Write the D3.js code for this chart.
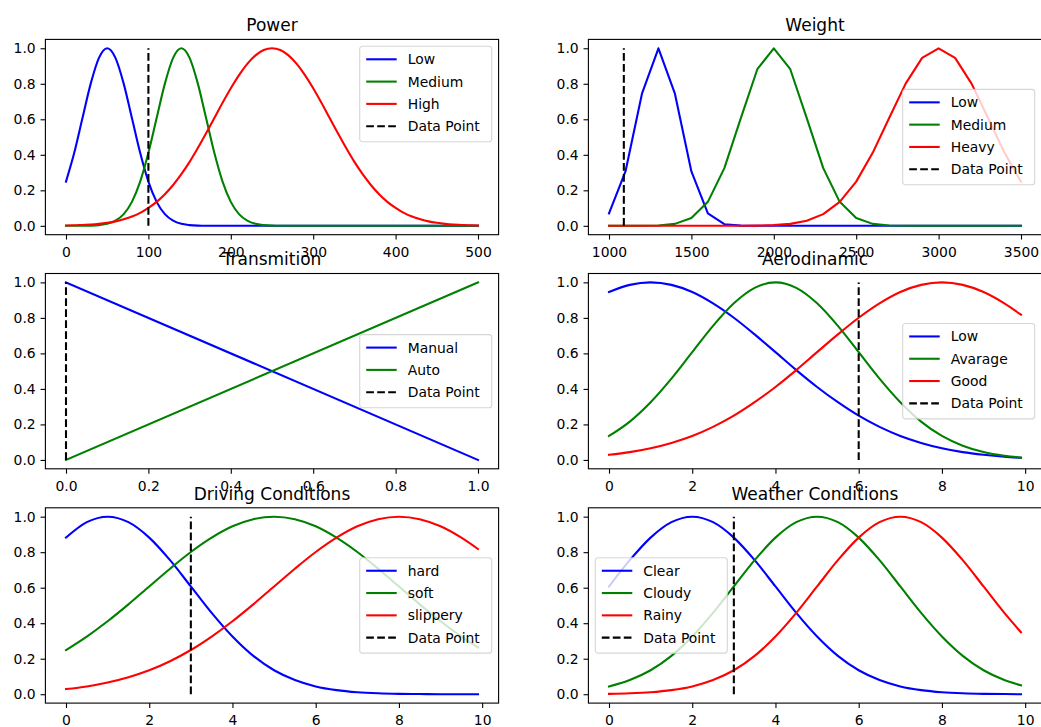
<!DOCTYPE html>
<html>
<head>
<meta charset="utf-8">
<script src="https://cdn.jsdelivr.net/npm/d3@7"></script>
<style>
body { margin: 0; background: #fff; }
svg { display: block; font-family: "DejaVu Sans", sans-serif; }
</style>
</head>
<body>
<svg id="fig" width="1041" height="727"></svg>
<script>

// ---- data ----
const power_x = [0,10,20,30,40,50,60,70,80,90,
  100,110,120,130,140,150,160,170,180,190,
  200,210,220,230,240,250,260,270,280,290,
  300,310,320,330,340,350,360,370,380,390,
  400,410,420,430,440,450,460,470,480,490,
  500]
const power_low = [0.249,0.411,0.607,0.801,0.946,1,0.946,0.801,0.607,0.411,
  0.249,0.135,0.066,0.029,0.011,0.004,0.001,0,0,0,
  0,0,0,0,0,0,0,0,0,0,
  0,0,0,0,0,0,0,0,0,0,
  0,0,0,0,0,0,0,0,0,0,
  0]
const power_medium = [0,0,0,0.001,0.004,0.011,0.029,0.066,0.135,0.249,
  0.411,0.607,0.801,0.946,1,0.946,0.801,0.607,0.411,0.249,
  0.135,0.066,0.029,0.011,0.004,0.001,0,0,0,0,
  0,0,0,0,0,0,0,0,0,0,
  0,0,0,0,0,0,0,0,0,0,
  0]
const power_high = [0.002,0.003,0.005,0.007,0.011,0.017,0.025,0.037,0.052,0.073,
  0.101,0.135,0.178,0.230,0.291,0.360,0.438,0.521,0.607,0.693,
  0.775,0.849,0.912,0.960,0.990,1,0.990,0.960,0.912,0.849,
  0.775,0.693,0.607,0.521,0.438,0.360,0.291,0.230,0.178,0.135,
  0.101,0.073,0.052,0.037,0.025,0.017,0.011,0.007,0.005,0.003,
  0.002]
const power_point = 100
const power_ticks = [0, 100, 200, 300, 400, 500]

const weight_x = [1000,1100,1200,1300,1400,1500,1600,1700,1800,1900,
  2000,2100,2200,2300,2400,2500,2600,2700,2800,2900,
  3000,3100,3200,3300,3400,3500]
const weight_low = [0.070,0.306,0.744,1,0.744,0.306,0.070,0.009,0.001,0,
  0,0,0,0,0,0,0,0,0,0,
  0,0,0,0,0,0]
const weight_medium = [0,0,0,0.002,0.011,0.044,0.135,0.325,0.607,0.882,
  1,0.882,0.607,0.325,0.135,0.044,0.011,0.002,0,0,
  0,0,0,0,0,0]
const weight_heavy = [0,0,0,0,0,0,0,0,0,0.001,
  0.004,0.011,0.029,0.066,0.135,0.249,0.411,0.607,0.801,0.946,
  1,0.946,0.801,0.607,0.411,0.249]
const weight_point = 1090
const weight_ticks = [1000, 1500, 2000, 2500, 3000, 3500]

const trans_x = [0, 1]
const trans_manual = [1, 0]
const trans_auto = [0, 1]
const trans_point = 0
const trans_ticks = [0, 0.2, 0.4, 0.6, 0.8, 1.0]

const aero_x = [0,0.5,1,1.5,2,2.5,3,3.5,4,4.5,5,5.5,6,6.5,7,7.5,8,8.5,9,9.5,9.9]
const aero_low = [0.946,0.986,1,0.986,0.946,0.882,0.801,0.707,0.607,0.506,0.411,0.325,0.249,0.186,0.135,0.096,0.066,0.044,0.029,0.018,0.012]
const aero_avarage = [0.135,0.216,0.325,0.458,0.607,0.755,0.882,0.969,1,0.969,0.882,0.755,0.607,0.458,0.325,0.216,0.135,0.080,0.044,0.023,0.013]
const aero_good = [0.029,0.044,0.066,0.096,0.135,0.186,0.249,0.325,0.411,0.506,0.607,0.707,0.801,0.882,0.946,0.986,1,0.986,0.946,0.882,0.818]
const aero_point = 6

const drive_x = [0,0.5,1,1.5,2,2.5,3,3.5,4,4.5,5,5.5,6,6.5,7,7.5,8,8.5,9,9.5,9.9]
const drive_hard = [0.882,0.969,1,0.969,0.882,0.755,0.607,0.458,0.325,0.216,0.135,0.080,0.044,0.023,0.011,0.005,0.002,0.001,0,0,0]
const drive_soft = [0.249,0.325,0.411,0.506,0.607,0.707,0.801,0.882,0.946,0.986,1,0.986,0.946,0.882,0.801,0.707,0.607,0.506,0.411,0.325,0.263]
const drive_slippery = [0.029,0.044,0.066,0.096,0.135,0.186,0.249,0.325,0.411,0.506,0.607,0.707,0.801,0.882,0.946,0.986,1,0.986,0.946,0.882,0.818]
const drive_point = 3

const weather_x = [0,0.5,1,1.5,2,2.5,3,3.5,4,4.5,5,5.5,6,6.5,7,7.5,8,8.5,9,9.5,9.9]
const weather_clear = [0.607,0.755,0.882,0.969,1,0.969,0.882,0.755,0.607,0.458,0.325,0.216,0.135,0.080,0.044,0.023,0.011,0.005,0.002,0.001,0]
const weather_cloudy = [0.044,0.080,0.135,0.216,0.325,0.458,0.607,0.755,0.882,0.969,1,0.969,0.882,0.755,0.607,0.458,0.325,0.216,0.135,0.080,0.050]
const weather_rainy = [0.002,0.005,0.011,0.023,0.044,0.080,0.135,0.216,0.325,0.458,0.607,0.755,0.882,0.969,1,0.969,0.882,0.755,0.607,0.458,0.349]
const weather_point = 3

const ten_ticks = [0, 2, 4, 6, 8, 10]
const y_ticks = [0, 0.2, 0.4, 0.6, 0.8, 1.0]

// ---- layout ----
const col_left = [45.4, 588.4],
      row_top = [39.4, 273.5, 507.8],
      ax_w = 453.2,
      ax_h = 195.3,
      colors = ["#0000ff", "#008000", "#ff0000"],
      font = 13.9

const panels = [
  {title: "Power", x: power_x, series: [power_low, power_medium, power_high],
   labels: ["Low", "Medium", "High"], point: power_point, ticks: power_ticks,
   fmt: d3.format("d"), curve: d3.curveMonotoneX, loc: "upper right"},
  {title: "Weight", x: weight_x, series: [weight_low, weight_medium, weight_heavy],
   labels: ["Low", "Medium", "Heavy"], point: weight_point, ticks: weight_ticks,
   fmt: d3.format("d"), curve: d3.curveLinear, loc: "center right"},
  {title: "Transmition", x: trans_x, series: [trans_manual, trans_auto],
   labels: ["Manual", "Auto"], point: trans_point, ticks: trans_ticks,
   fmt: d3.format(".1f"), curve: d3.curveLinear, loc: "center right"},
  {title: "Aerodinamic", x: aero_x, series: [aero_low, aero_avarage, aero_good],
   labels: ["Low", "Avarage", "Good"], point: aero_point, ticks: ten_ticks,
   fmt: d3.format("d"), curve: d3.curveMonotoneX, loc: "center right"},
  {title: "Driving Conditions", x: drive_x, series: [drive_hard, drive_soft, drive_slippery],
   labels: ["hard", "soft", "slippery"], point: drive_point, ticks: ten_ticks,
   fmt: d3.format("d"), curve: d3.curveMonotoneX, loc: "center right"},
  {title: "Weather Conditions", x: weather_x, series: [weather_clear, weather_cloudy, weather_rainy],
   labels: ["Clear", "Cloudy", "Rainy"], point: weather_point, ticks: ten_ticks,
   fmt: d3.format("d"), curve: d3.curveMonotoneX, loc: "center left"}
]

function draw_panel(svg, p, i) {
  let left = col_left[i % 2],
      top = row_top[Math.floor(i / 2)]
  let g = svg.append("g").attr("transform", `translate(${left},${top})`)

  let ext = d3.extent(p.x),
      pad = (ext[1] - ext[0]) * 0.05
  let x = d3.scaleLinear().domain([ext[0] - pad, ext[1] + pad]).range([0, ax_w])
  let y = d3.scaleLinear().domain([-0.05, 1.05]).range([ax_h, 0])

  let line = d3.line()
    .x(d => x(d[0]))
    .y(d => y(d[1]))
    .curve(p.curve)

  p.series.forEach((s, k) => {
    g.append("path")
      .datum(p.x.map((v, j) => [v, s[j]]))
      .attr("d", line)
      .attr("fill", "none")
      .attr("stroke", colors[k])
      .attr("stroke-width", 2.08)
      .attr("stroke-linejoin", "round")
      .attr("stroke-linecap", "square")
  })

  // vertical data point marker, drawn bottom-up like the original
  g.append("line")
    .attr("x1", x(p.point)).attr("x2", x(p.point))
    .attr("y1", y(0)).attr("y2", y(1))
    .attr("stroke", "#000")
    .attr("stroke-width", 2.08)
    .attr("stroke-dasharray", "7.7,3.3")

  // axes
  let xa = g.append("g")
    .attr("transform", `translate(0,${ax_h})`)
    .call(d3.axisBottom(x).tickValues(p.ticks).tickFormat(p.fmt)
      .tickSize(4.86).tickPadding(4.86).tickSizeOuter(0))
  let ya = g.append("g")
    .call(d3.axisLeft(y).tickValues(y_ticks).tickFormat(d3.format(".1f"))
      .tickSize(4.86).tickPadding(4.86).tickSizeOuter(0))
  for (let a of [xa, ya]) {
    a.select(".domain").remove()
    a.attr("font-family", null).attr("font-size", font)
    a.selectAll("line").attr("stroke", "#000").attr("stroke-width", 1.1)
    a.selectAll("text").attr("fill", "#000")
  }
  xa.selectAll("text").attr("dy", "0.87em")

  g.append("rect")
    .attr("width", ax_w).attr("height", ax_h)
    .attr("fill", "none")
    .attr("stroke", "#000")
    .attr("stroke-width", 1.1)

  g.append("text")
    .attr("x", ax_w / 2).attr("y", -8.3)
    .attr("text-anchor", "middle")
    .attr("font-size", 17)
    .attr("fill", "#000")
    .text(p.title)

  draw_legend(g, p)
}

function draw_legend(g, p) {
  let names = p.labels.concat(["Data Point"]),
      n = names.length,
      w = 132,
      h = 6.2 + 22.3 * n,
      gap = 6.9
  let bx = p.loc == "center left" ? gap : ax_w - gap - w,
      by = p.loc == "upper right" ? gap : (ax_h - h) / 2

  let lg = g.append("g").attr("transform", `translate(${bx},${by})`)
  lg.append("rect")
    .attr("width", w).attr("height", h)
    .attr("rx", 2.8)
    .attr("fill", "#fff").attr("fill-opacity", 0.8)
    .attr("stroke", "#ccc").attr("stroke-opacity", 0.8)
    .attr("stroke-width", 1.1)

  names.forEach((name, k) => {
    let cy = 13 + k * 22.3
    let dashed = k == n - 1
    lg.append("line")
      .attr("x1", 6.5).attr("x2", 37)
      .attr("y1", cy).attr("y2", cy)
      .attr("stroke", dashed ? "#000" : colors[k])
      .attr("stroke-width", 2.08)
      .attr("stroke-dasharray", dashed ? "7.7,3.3" : null)
    lg.append("text")
      .attr("x", 48).attr("y", cy + 5)
      .attr("font-size", font)
      .attr("fill", "#000")
      .text(name)
  })
}

let svg = d3.select("#fig")
svg.append("rect").attr("width", 1041).attr("height", 727).attr("fill", "#fff")
panels.forEach((p, i) => draw_panel(svg, p, i))

</script>
</body>
</html>
